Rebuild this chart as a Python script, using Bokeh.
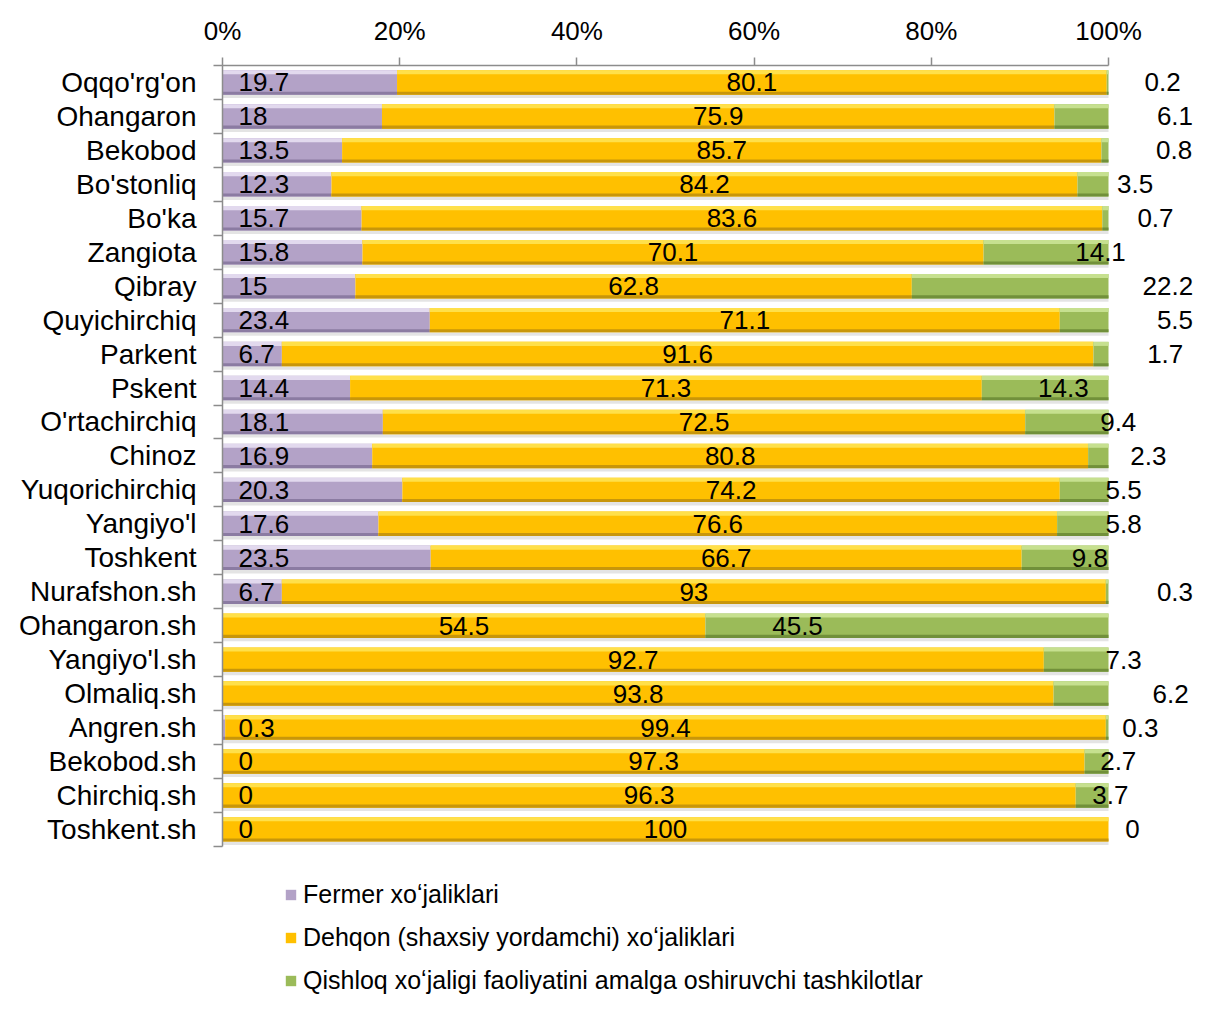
from bokeh.plotting import figure
from bokeh.models import Range1d, FixedTicker, Legend, LegendItem
from bokeh.core.properties import value
from bokeh.embed import file_html
from bokeh.resources import INLINE

# ---------------- data ----------------
categories = ["Oqqo'rg'on", "Ohangaron", "Bekobod", "Bo'stonliq", "Bo'ka", "Zangiota",
              "Qibray", "Quyichirchiq", "Parkent", "Pskent", "O'rtachirchiq", "Chinoz",
              "Yuqorichirchiq", "Yangiyo'l", "Toshkent", "Nurafshon.sh", "Ohangaron.sh",
              "Yangiyo'l.sh", "Olmaliq.sh", "Angren.sh", "Bekobod.sh", "Chirchiq.sh",
              "Toshkent.sh"]
fermer = [19.7, 18, 13.5, 12.3, 15.7, 15.8, 15, 23.4, 6.7, 14.4, 18.1, 16.9, 20.3, 17.6,
          23.5, 6.7, None, None, None, 0.3, 0, 0, 0]
dehqon = [80.1, 75.9, 85.7, 84.2, 83.6, 70.1, 62.8, 71.1, 91.6, 71.3, 72.5, 80.8, 74.2,
          76.6, 66.7, 93, 54.5, 92.7, 93.8, 99.4, 97.3, 96.3, 100]
qishloq = [0.2, 6.1, 0.8, 3.5, 0.7, 14.1, 22.2, 5.5, 1.7, 14.3, 9.4, 2.3, 5.5, 5.8, 9.8,
           0.3, 45.5, 7.3, 6.2, 0.3, 2.7, 3.7, 0]
# where the third series' data labels sit (percent axis units)
qishloq_label_at = [106.1, 107.5, 107.4, 103.0, 105.3, 99.1, 106.7, 107.5, 106.4, 94.9,
                    101.1, 104.5, 101.7, 101.7, 97.9, 107.5, 64.9, 101.7, 107.0, 103.6,
                    101.1, 100.2, 102.7]
x_ticks = [0, 20, 40, 60, 80, 100]
x_tick_labels = ["0%", "20%", "40%", "60%", "80%", "100%"]
series_names = ["Fermer xo\u02bbjaliklari",
                "Dehqon (shaxsiy yordamchi) xo\u02bbjaliklari",
                "Qishloq xo\u02bbjaligi faoliyatini amalga oshiruvchi tashkilotlar"]

FONT = "Liberation Sans"
n = len(categories)
yc = [i + 0.5 for i in range(n)]
f0 = [v if v is not None else 0 for v in fermer]
f_right = f0
d_left = f0
d_right = [a + b for a, b in zip(f0, dehqon)]
q_left = d_right
q_right = [a + b for a, b in zip(d_right, qishloq)]

W, H = 1196, 996
LEFT, TOP = 222, 65
PX_PER_PCT = 8.86
PX_PER_ROW = 33.95
p = figure(width=W, height=H,
           x_range=Range1d(0, (W - LEFT) / PX_PER_PCT),
           y_range=Range1d((H - TOP) / PX_PER_ROW, 0),
           x_axis_location="above", output_backend="svg", toolbar_location=None,
           min_border=0, min_border_left=LEFT, min_border_top=TOP,
           min_border_right=0, min_border_bottom=0)
p.grid.visible = False
p.outline_line_color = None
p.background_fill_color = "white"

BH = 0.72
styles = [
    ("#b3a2c7", "#e2d9ee", "#8b7ba2"),
    ("#ffc000", "#ffe04a", "#c8960a"),
    ("#9bbb59", "#c6e08f", "#71903a"),
]
segments = [([0] * n, f_right), (d_left, d_right), (q_left, q_right)]

# soft shadow under each bar
p.hbar(y=[c + BH / 2 + 0.05 for c in yc], height=0.1, left=[0] * n, right=q_right,
       fill_color="#d8d8d8", fill_alpha=0.7, line_color=None)

main_renderers = []
for (left, right), (main, light, dark) in zip(segments, styles):
    r = p.hbar(y=yc, height=BH, left=left, right=right, fill_color=main, line_color=None)
    main_renderers.append(r)
    p.hbar(y=[c - BH / 2 + 0.06 for c in yc], height=0.12, left=left, right=right,
           fill_color=light, line_color=None)
    p.hbar(y=[c + BH / 2 - 0.045 for c in yc], height=0.09, left=left, right=right,
           fill_color=dark, line_color=None)

# data labels
fi = [i for i, v in enumerate(fermer) if v is not None]
p.text(x=[0] * len(fi), y=[yc[i] for i in fi], text=[f"{fermer[i]:g}" for i in fi],
       x_offset=16, text_align="left", text_baseline="middle",
       text_font=value(FONT), text_font_size="26px", text_color="black")
p.text(x=[(a + b) / 2 for a, b in zip(d_left, d_right)], y=yc,
       text=[f"{v:g}" for v in dehqon], text_align="center", text_baseline="middle",
       text_font=value(FONT), text_font_size="26px", text_color="black")
p.text(x=qishloq_label_at, y=yc, text=[f"{v:g}" for v in qishloq],
       text_align="center", text_baseline="middle",
       text_font=value(FONT), text_font_size="26px", text_color="black")

AX = "#8c8c8c"
xa = p.xaxis[0]
xa.ticker = FixedTicker(ticks=x_ticks)
xa.major_label_overrides = {t: l for t, l in zip(x_ticks, x_tick_labels)}
xa.bounds = (0, 100)
xa.major_tick_out = 8
xa.major_tick_in = 0
xa.minor_tick_out = 0
xa.minor_tick_line_color = None
xa.axis_line_color = AX
xa.axis_line_width = 1.5
xa.major_tick_line_color = AX
xa.major_tick_line_width = 1.5
xa.major_label_text_font = FONT
xa.major_label_text_font_size = "26px"
xa.major_label_text_color = "black"
xa.major_label_standoff = 12

ya = p.yaxis[0]
ya.ticker = FixedTicker(ticks=yc, minor_ticks=list(range(n + 1)))
ya.major_label_overrides = {c: name for c, name in zip(yc, categories)}
ya.bounds = (0, n)
ya.major_tick_out = 9
ya.major_tick_in = 0
ya.major_tick_line_color = None
ya.minor_tick_out = 9
ya.minor_tick_in = 0
ya.minor_tick_line_color = AX
ya.minor_tick_line_width = 1.5
ya.axis_line_color = AX
ya.axis_line_width = 1.5
ya.major_label_text_font = FONT
ya.major_label_text_font_size = "28px"
ya.major_label_text_color = "black"
ya.major_label_standoff = 17

legend = Legend(items=[LegendItem(label=nm, renderers=[r])
                       for nm, r in zip(series_names, main_renderers)],
                location=(62, 1), orientation="vertical",
                glyph_width=13, glyph_height=13, label_standoff=6,
                label_height=30, spacing=13, padding=0, margin=0,
                border_line_color=None, background_fill_alpha=0,
                label_text_font=FONT, label_text_font_size="25px",
                label_text_color="black")
p.add_layout(legend)

open("out.html", "w").write(file_html(p, INLINE))
